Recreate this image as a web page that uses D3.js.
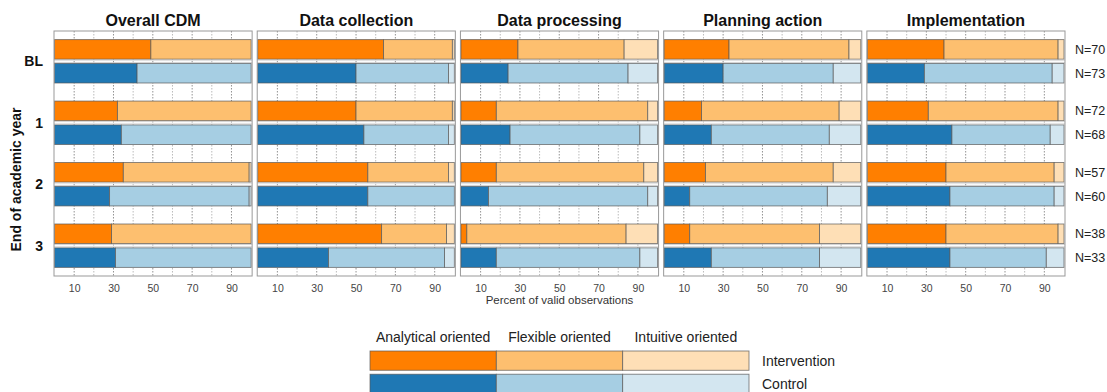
<!DOCTYPE html>
<html>
<head>
<meta charset="utf-8">
<script src="https://cdn.jsdelivr.net/npm/d3@7"></script>
<style>
  html, body { margin: 0; padding: 0; background: #fff; }
  svg { display: block; font-family: "Liberation Sans", Arial, sans-serif; }
</style>
</head>
<body>
<svg id="chart" width="1107" height="392"></svg>
<script>
// Decision-making style shares (%) per domain.
// Row order: BL intervention, BL control, Y1 intervention, Y1 control, ...
// Each row: [analytical, flexible, intuitive]
const panels = ["Overall CDM", "Data collection", "Data processing", "Planning action", "Implementation"];
const years = ["BL", "1", "2", "3"];
const groups = ["Intervention", "Control"];
const styles = ["Analytical oriented", "Flexible oriented", "Intuitive oriented"];

const overallCDM = [[49, 51, 0], [42, 58, 0], [32, 68, 0], [34, 66, 0], [35, 64, 1], [28, 71, 1], [29, 71, 0], [31, 69, 0]];
const dataCollection = [[64, 35, 1], [50, 47, 3], [50, 49, 1], [54, 43, 3], [56, 41, 3], [56, 44, 0], [63, 33, 4], [36, 59, 5]];
const dataProcessing = [[29, 54, 17], [24, 61, 15], [18, 77, 5], [25, 66, 9], [18, 75, 7], [14, 81, 5], [3, 81, 16], [18, 73, 9]];
const planningAction = [[33, 61, 6], [30, 56, 14], [19, 70, 11], [24, 60, 16], [21, 65, 14], [13, 70, 17], [13, 66, 21], [24, 55, 21]];
const implementation = [[39, 58, 3], [29, 65, 6], [31, 66, 3], [43, 50, 7], [40, 55, 5], [42, 53, 5], [40, 57, 3], [42, 49, 9]];
const panelValues = [overallCDM, dataCollection, dataProcessing, planningAction, implementation];

const nIntervention = [70, 72, 57, 38];
const nControl = [73, 68, 60, 33];
const xTicks = [10, 30, 50, 70, 90];
const gridTicks = [10, 20, 30, 40, 50, 60, 70, 80, 90];

const colors = {
  Intervention: ["#ff7f00", "#fdbf6f", "#fedfb6"],
  Control: ["#1f78b4", "#a6cee3", "#d3e6f0"]
};

const svg = d3.select("#chart");

const panelTop = 31, panelBottom = 276;
const px = d3.scaleBand().domain(panels).range([54, 1065]).paddingInner(0.025);
const yYear = d3.scaleBand().domain(years).range([panelTop, panelBottom]).paddingInner(0.294).paddingOuter(0.14);
const yGroup = d3.scaleBand().domain(groups).range([0, yYear.bandwidth()]).paddingInner(0.18);

panels.forEach((name, pi) => {
  const x0 = px(name), w = px.bandwidth();
  const x = d3.scaleLinear().domain([0, 100]).range([x0 + 0.5, x0 + w - 1]);
  const g = svg.append("g");

  // background and dotted grid
  g.append("rect").attr("x", x0).attr("y", panelTop).attr("width", w).attr("height", panelBottom - panelTop)
    .attr("fill", "#fff");
  g.selectAll("line.grid").data(gridTicks).join("line")
    .attr("x1", d => x(d)).attr("x2", d => x(d))
    .attr("y1", panelTop).attr("y2", panelBottom)
    .attr("stroke", d => xTicks.includes(d) ? "#777" : "#aaa")
    .attr("stroke-width", 0.8)
    .attr("stroke-dasharray", "1.5,1.5");

  // bars
  years.forEach((yr, yi) => {
    groups.forEach((grp, gi) => {
      const vals = panelValues[pi][yi * 2 + gi];
      const y = yYear(yr) + yGroup(grp);
      const h = yGroup.bandwidth();
      let cum = 0;
      const segs = vals.map((v, si) => {
        const s = { start: cum, end: cum + v, si };
        cum += v;
        return s;
      }).filter(s => s.end > s.start);
      g.selectAll(null).data(segs).join("rect")
        .attr("x", s => x(s.start)).attr("y", y)
        .attr("width", s => x(s.end) - x(s.start)).attr("height", h)
        .attr("fill", s => colors[grp][s.si])
        .attr("stroke", "#555").attr("stroke-opacity", 0.75).attr("stroke-width", 0.9);
    });
    // thin separator strip between the two bars of a year
    const gapTop = yYear(yr) + yGroup.bandwidth() + 1;
    const gapBot = yYear(yr) + yGroup("Control") - 1;
    g.append("line").attr("x1", x0).attr("x2", x0 + w).attr("y1", gapTop).attr("y2", gapTop)
      .attr("stroke", "#c8c8c8").attr("stroke-width", 0.8);
    g.append("line").attr("x1", x0).attr("x2", x0 + w).attr("y1", gapBot).attr("y2", gapBot)
      .attr("stroke", "#c8c8c8").attr("stroke-width", 0.8);
  });

  // panel frame
  g.append("rect").attr("x", x0).attr("y", panelTop).attr("width", w).attr("height", panelBottom - panelTop)
    .attr("fill", "none").attr("stroke", "#999").attr("stroke-width", 1);

  // title
  g.append("text").attr("x", x0 + w / 2).attr("y", 25.5).attr("text-anchor", "middle")
    .attr("font-size", 16).attr("font-weight", "bold").attr("fill", "#111").text(name);

  // x axis
  const axis = d3.axisBottom(x).tickValues(xTicks).tickSize(0).tickPadding(0);
  const ag = g.append("g").attr("transform", `translate(0,${panelBottom})`).call(axis);
  ag.select(".domain").remove();
  ag.selectAll("text").attr("y", 9).attr("dy", "0.71em")
    .attr("font-size", 10.5).attr("fill", "#444").attr("font-family", "Liberation Sans, Arial, sans-serif");
});

// year labels
svg.append("g").selectAll("text").data(years).join("text")
  .attr("x", 43).attr("y", d => yYear(d) + yYear.bandwidth() / 2).attr("dy", "0.36em")
  .attr("text-anchor", "end").attr("font-size", 14).attr("font-weight", "bold").attr("fill", "#111")
  .text(d => d);

svg.append("text").attr("transform", `translate(21,${(panelTop + panelBottom) / 2 + 26}) rotate(-90)`)
  .attr("text-anchor", "middle").attr("font-size", 14).attr("font-weight", "bold").attr("fill", "#111")
  .text("End of academic year");

// sample sizes
const lastX = px(panels[panels.length - 1]) + px.bandwidth();
years.forEach((yr, yi) => {
  [[groups[0], nIntervention[yi]], [groups[1], nControl[yi]]].forEach(([grp, n]) => {
    svg.append("text").attr("x", lastX + 10)
      .attr("y", yYear(yr) + yGroup(grp) + yGroup.bandwidth() / 2).attr("dy", "0.36em")
      .attr("font-size", 12.5).attr("fill", "#222").text("N=" + n);
  });
});

svg.append("text").attr("x", px(panels[2]) + px.bandwidth() / 2).attr("y", 303.5)
  .attr("text-anchor", "middle").attr("font-size", 11.5).attr("fill", "#333")
  .text("Percent of valid observations");

// legend
const lx = d3.scaleBand().domain(styles).range([370, 749]);
const ly = d3.scaleBand().domain(groups).range([351, 393.5]).paddingInner(0.17);
const leg = svg.append("g");
leg.selectAll("text.head").data(styles).join("text")
  .attr("x", d => lx(d) + lx.bandwidth() / 2).attr("y", 342)
  .attr("text-anchor", "middle").attr("font-size", 14).attr("fill", "#222").text(d => d);
groups.forEach(grp => {
  leg.selectAll(null).data(styles).join("rect")
    .attr("x", d => lx(d)).attr("y", ly(grp)).attr("width", lx.bandwidth()).attr("height", ly.bandwidth())
    .attr("fill", (d, i) => colors[grp][i])
    .attr("stroke", "#555").attr("stroke-opacity", 0.75).attr("stroke-width", 0.9);
  leg.append("text").attr("x", 762).attr("y", ly(grp) + ly.bandwidth() / 2).attr("dy", "0.36em")
    .attr("font-size", 14).attr("fill", "#222").text(grp);
});
</script>
</body>
</html>
